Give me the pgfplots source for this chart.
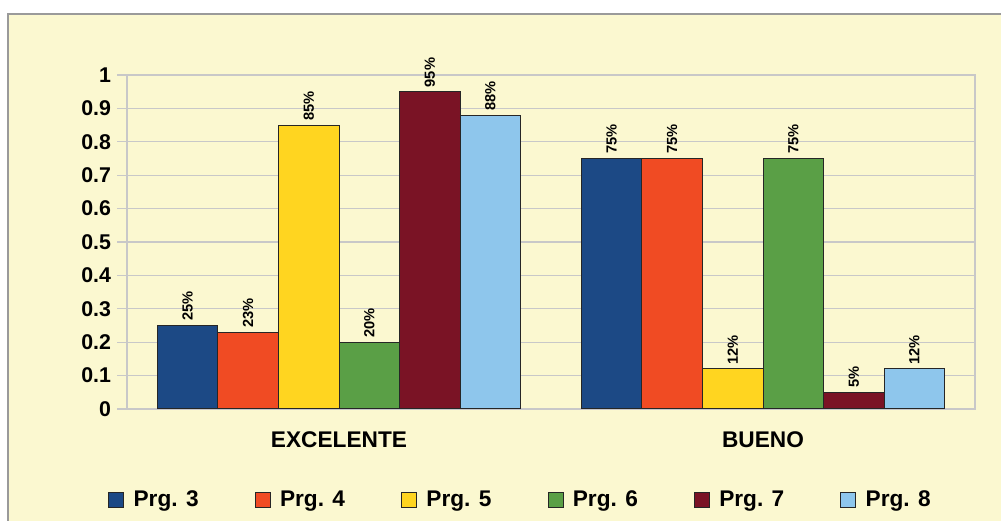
\documentclass[border=0pt]{standalone}
\usepackage{pgfplots}
\pgfplotsset{compat=1.18}
\usepackage{fontspec}
\setmainfont{Liberation Sans}
\definecolor{bgc}{HTML}{FBF8D0}
\definecolor{gridc}{HTML}{C8C8C8}
\definecolor{framec}{HTML}{9A9A9A}
\definecolor{c1}{HTML}{1C4985}
\definecolor{c2}{HTML}{F04B23}
\definecolor{c3}{HTML}{FFD520}
\definecolor{c4}{HTML}{5A9F46}
\definecolor{c5}{HTML}{7A1325}
\definecolor{c6}{HTML}{8EC6EC}
\begin{document}
\begin{tikzpicture}
\useasboundingbox (0,0) rectangle (750.75pt,390.75pt);
\fill[bgc] (6pt,0) rectangle (750.75pt,380.25pt);
\draw[framec,line width=1.2pt] (6pt,0) -- (6pt,380.25pt) -- (750.75pt,380.25pt);
\begin{axis}[
  at={(95.25pt,84pt)}, anchor=south west,
  scale only axis, width=636pt, height=250.5pt,
  ybar=0pt, bar width=45.4pt,
  xmin=-0.5, xmax=1.5, ymin=0, ymax=1,
  xtick={0,1}, xticklabels={EXCELENTE,BUENO},
  x tick style={draw=none},
  extra x ticks={-0.5,0.5,1.5}, extra x tick labels={},
  extra x tick style={grid=none, tick style={draw=gridc, line width=0.9pt}, major tick length=6pt},
  xtick pos=bottom, ytick pos=left, tick align=outside,
  ytick={0,0.1,...,1.01},
  yticklabels={0,0.1,0.2,0.3,0.4,0.5,0.6,0.7,0.8,0.9,1},
  major tick length=7.5pt,
  y tick style={draw=gridc, line width=0.9pt},
  ymajorgrids, grid style={draw=gridc, line width=0.9pt},
  axis line style={draw=gridc, line width=0.9pt},
  yticklabel style={font=\bfseries\fontsize{16}{16}\selectfont, xshift=-1pt},
  xticklabel style={font=\bfseries\fontsize{17}{17}\selectfont, yshift=-6pt},
  /pgf/number format/assume math mode=true,
  point meta={y*100},
  nodes near coords={\pgfmathprintnumber[fixed,precision=0]{\pgfplotspointmeta}\%},
  every node near coord/.append style={rotate=90, anchor=west, font=\bfseries\fontsize{11}{11}\selectfont, inner sep=3pt},
  legend columns=6,
  legend style={at={(-0.0224,-0.2725)}, anchor=west, draw=none, fill=none, inner sep=0pt,
    font=\bfseries\fontsize{17}{17}\selectfont,
    /tikz/every odd column/.append style={column sep=5pt},
    /tikz/every even column/.append style={column sep=40pt}},
  legend image code/.code={\draw[#1, draw=black!85, line width=0.75pt] (0pt,-5.6pt) rectangle (11.25pt,5.6pt);},
  every axis plot/.append style={draw=black!85, line width=0.75pt},
]
\addplot[fill=c1] coordinates {(0,0.25) (1,0.75)};
\addplot[fill=c2] coordinates {(0,0.23) (1,0.75)};
\addplot[fill=c3] coordinates {(0,0.85) (1,0.12)};
\addplot[fill=c4] coordinates {(0,0.20) (1,0.75)};
\addplot[fill=c5] coordinates {(0,0.95) (1,0.05)};
\addplot[fill=c6] coordinates {(0,0.88) (1,0.12)};
\legend{Prg. 3,Prg. 4,Prg. 5,Prg. 6,Prg. 7,Prg. 8}
\end{axis}
\end{tikzpicture}
\end{document}
